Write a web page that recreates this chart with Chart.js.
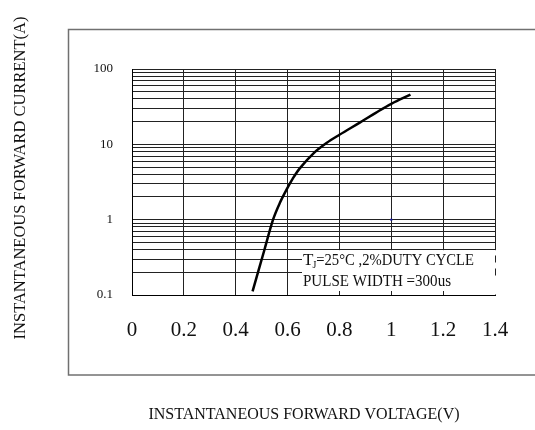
<!DOCTYPE html>
<html>
<head>
<meta charset="utf-8">
<style>
  html, body { margin: 0; padding: 0; background: #fff; }
  #wrap { width: 535px; height: 430px; }
</style>
<script src="https://cdn.jsdelivr.net/npm/chart.js@4.4.1/dist/chart.umd.min.js"></script>
</head>
<body>
<div id="wrap"><canvas id="chart" width="535" height="430"></canvas></div>
<script>
// forward characteristic
var voltage = [0.465, 0.51, 0.544, 0.57, 0.596, 0.62, 0.647, 0.70, 0.75, 0.80, 0.88, 0.94, 1.00, 1.074];
var current = [0.112, 0.39, 1.0, 1.66, 2.5, 3.5, 4.8, 7.6, 10.4, 13.4, 19.6, 26.2, 34.5, 45.7];

// the stray blue dot on the grid
var markerV = [1.0];
var markerI = [1.0];

var xTicks = [0, 0.2, 0.4, 0.6, 0.8, 1, 1.2, 1.4];
var xTickLabels = ['0', '0.2', '0.4', '0.6', '0.8', '1', '1.2', '1.4'];
var yDecades = [0.1, 1, 10, 100];
var yTickLabels = ['0.1', '1', '10', '100'];

var noteLine1 = ['T', 'J', '=25°C ,2%DUTY CYCLE'];
var noteLine2 = 'PULSE WIDTH =300us';
var xTitle = 'INSTANTANEOUS FORWARD VOLTAGE(V)';
var yTitle = 'INSTANTANEOUS FORWARD CURRENT(A)';

var SERIF = '"Liberation Serif", "DejaVu Serif", serif';

// gridlines at 1..9 of every decade
var yGrid = [];
yDecades.forEach(function (d, i) {
    if (i === yDecades.length - 1) { yGrid.push(d); return; }
    for (var k = 1; k <= 9; k++) yGrid.push(+(d * k).toPrecision(3));
});

function pairs(xs, ys) {
    return xs.map(function (x, i) { return { x: x, y: ys[i] }; });
}

// ── Frame, note box and axis titles ─────────────────────────────────────────

var decor = {
    id: 'decor',
    beforeDraw: function (chart) {
        var ctx = chart.ctx;
        ctx.save();
        ctx.fillStyle = '#fff';
        ctx.fillRect(0, 0, chart.width, chart.height);
        ctx.strokeStyle = '#707070';
        ctx.lineWidth = 1.5;
        ctx.strokeRect(68.5, 29.5, 480, 345.5);
        ctx.restore();
    },
    afterDatasetsDraw: function (chart) {
        var ctx = chart.ctx;
        var xs = chart.scales.x, ys = chart.scales.y;
        var bottom = chart.chartArea.bottom, right = chart.chartArea.right;
        var left = 302, top = ys.getPixelForValue(0.4) + 0.5;

        ctx.save();
        ctx.fillStyle = '#fff';
        ctx.fillRect(left, top, right + 2 - left, bottom - 0.5 - top);

        // little stubs left of the covered grid
        ctx.strokeStyle = '#222';
        ctx.lineWidth = 1;
        ctx.beginPath();
        [0.8, 1, 1.2].forEach(function (v) {
            var px = Math.round(xs.getPixelForValue(v)) + 0.5;
            ctx.moveTo(px, bottom); ctx.lineTo(px, bottom - 4);
        });
        [0.3, 0.2].forEach(function (v) {
            var py = Math.round(ys.getPixelForValue(v)) + 0.5;
            ctx.moveTo(right + 0.5, py - 4); ctx.lineTo(right + 0.5, py + 3);
        });
        ctx.stroke();

        ctx.fillStyle = '#111';
        ctx.textBaseline = 'alphabetic';
        ctx.textAlign = 'left';
        ctx.font = '17px ' + SERIF;
        var x = left + 1;
        ctx.fillText(noteLine1[0], x, 265);
        x += ctx.measureText(noteLine1[0]).width - 1;
        ctx.font = '10px ' + SERIF;
        ctx.fillText(noteLine1[1], x, 268);
        x += ctx.measureText(noteLine1[1]).width;
        ctx.font = '17px ' + SERIF;
        ctx.fillText(noteLine1[2], x, 265, 474 - x);
        ctx.fillText(noteLine2, left + 1, 286, 148);
        ctx.restore();
    },
    afterDraw: function (chart) {
        var ctx = chart.ctx;
        ctx.save();
        ctx.fillStyle = '#111';
        ctx.textAlign = 'center';
        ctx.textBaseline = 'middle';
        ctx.font = '16px ' + SERIF;
        ctx.fillText(xTitle, 304, 415, 318);
        ctx.translate(21, 178);
        ctx.rotate(-Math.PI / 2);
        ctx.font = '16.5px ' + SERIF;
        ctx.fillText(yTitle, 0, 0, 337);
        ctx.restore();
    }
};

// ── Chart ───────────────────────────────────────────────────────────────────

new Chart(document.getElementById('chart').getContext('2d'), {
    type: 'scatter',
    data: {
        datasets: [
            {
                data: pairs(voltage, current),
                showLine: true,
                borderColor: '#000',
                borderWidth: 2.5,
                pointRadius: 0,
                tension: 0.35,
                fill: false
            },
            {
                data: pairs(markerV, markerI),
                pointRadius: 1.2,
                pointBorderWidth: 0,
                backgroundColor: '#1a1aa0'
            }
        ]
    },
    options: {
        responsive: false,
        devicePixelRatio: 1,
        animation: false,
        layout: { padding: { left: 0, top: 69, right: 40, bottom: 0 } },
        plugins: {
            legend: { display: false },
            tooltip: { enabled: false }
        },
        scales: {
            x: {
                type: 'linear',
                min: 0,
                max: 1.4,
                afterBuildTicks: function (s) { s.ticks = xTicks.map(function (v) { return { value: v }; }); },
                afterFit: function (s) { s.height = 135; },
                grid: { color: '#222', lineWidth: 1, drawTicks: false },
                border: { color: '#000', width: 1 },
                ticks: {
                    autoSkip: false,
                    maxRotation: 0,
                    padding: 23,
                    color: '#111',
                    font: { family: SERIF, size: 21 },
                    callback: function (v) {
                        var i = xTicks.indexOf(v);
                        return i < 0 ? '' : xTickLabels[i];
                    }
                }
            },
            y: {
                type: 'logarithmic',
                min: 0.1,
                max: 100,
                afterBuildTicks: function (s) { s.ticks = yGrid.map(function (v) { return { value: v }; }); },
                afterFit: function (s) { s.width = 132; },
                grid: { color: '#222', lineWidth: 1, drawTicks: false },
                border: { color: '#000', width: 1 },
                ticks: {
                    autoSkip: false,
                    padding: 19,
                    color: '#111',
                    font: { family: SERIF, size: 13 },
                    callback: function (v) {
                        var i = yDecades.indexOf(v);
                        return i < 0 ? '' : yTickLabels[i];
                    }
                }
            }
        }
    },
    plugins: [decor]
});
</script>
</body>
</html>
